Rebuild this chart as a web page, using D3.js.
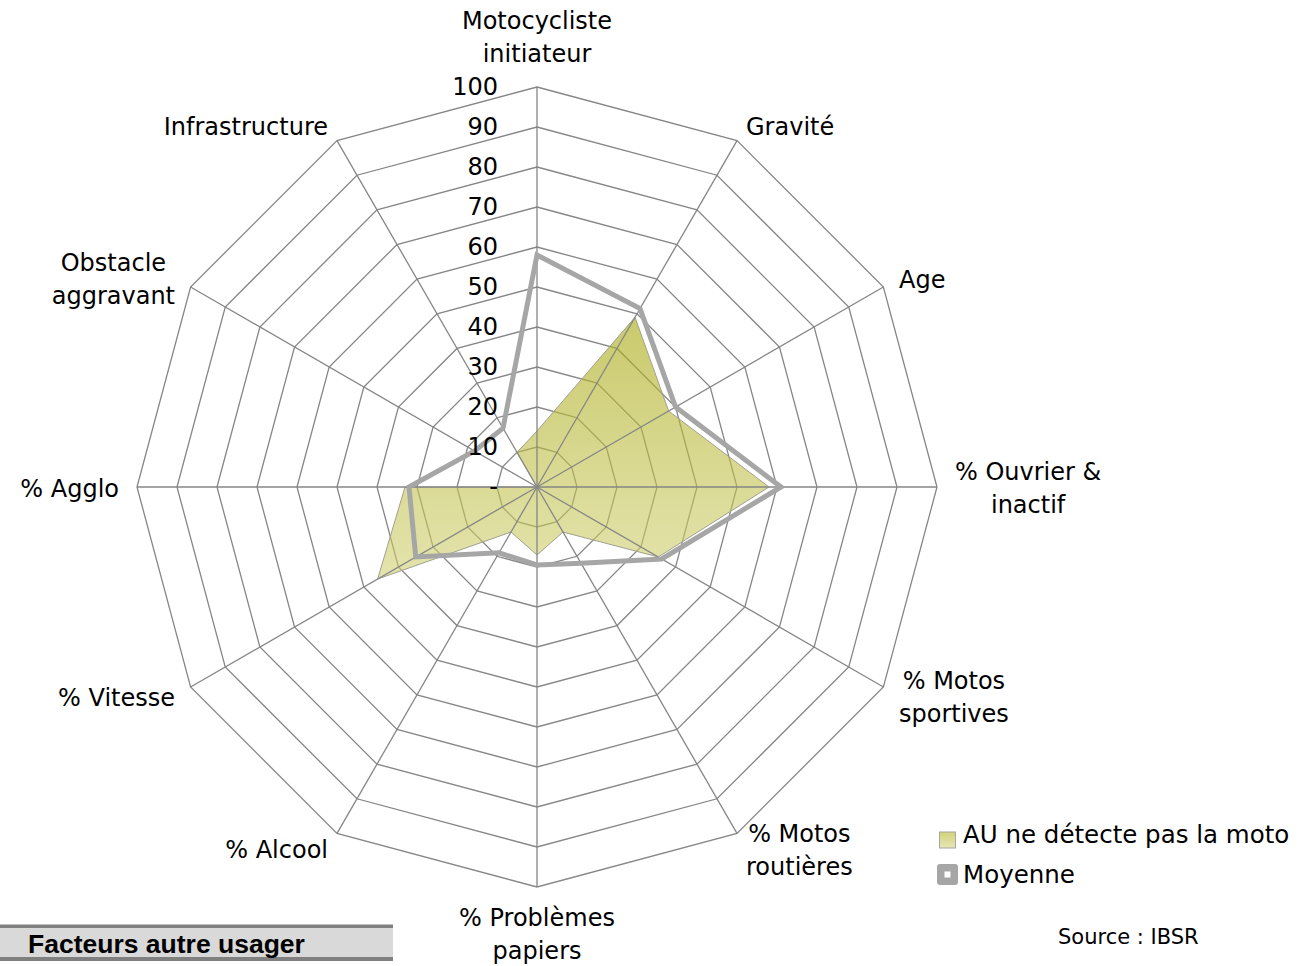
<!DOCTYPE html>
<html>
<head>
<meta charset="utf-8">
<script src="https://cdn.jsdelivr.net/npm/d3@7"></script>
<style>
  body { margin: 0; background: #fff; }
  svg text { font-family: "DejaVu Sans", Verdana, sans-serif; fill: #000; }
</style>
</head>
<body>
<div class="contenedor_grafico"></div>
<script>
// categories, clockwise from the top
const categories = [
  "Motocycliste\ninitiateur",
  "Gravité",
  "Age",
  "% Ouvrier &\ninactif",
  "% Motos\nsportives",
  "% Motos\nroutières",
  "% Problèmes\npapiers",
  "% Alcool",
  "% Vitesse",
  "% Agglo",
  "Obstacle\naggravant",
  "Infrastructure"
];
const auValues = [14, 49, 38, 58, 35, 13, 17, 13, 46, 33, 0, 10];
const moyenneValues = [58, 51.5, 40, 61, 36, 22, 19.5, 19, 35, 32, 18, 17];
const tickValues = [0, 10, 20, 30, 40, 50, 60, 70, 80, 90, 100];
const tickLabels = ["-", "10", "20", "30", "40", "50", "60", "70", "80", "90", "100"];
const seriesNames = ["AU ne détecte pas la moto", "Moyenne"];

document.addEventListener("DOMContentLoaded", function () {
  const width = 1309;
  const height = 966;
  const cx = 537;
  const cy = 487;
  const radius = 400;
  const gridColor = "#868686";
  const lineGrey = "#a6a6a6";

  const svg = d3
    .select(".contenedor_grafico")
    .append("svg")
    .attr("width", width)
    .attr("height", height);

  const defs = svg.append("defs");
  // gradient in the chart group's local coordinates (origin = centre)
  const grad = defs
    .append("linearGradient")
    .attr("id", "fillAU")
    .attr("gradientUnits", "userSpaceOnUse")
    .attr("x1", 0).attr("x2", 0)
    .attr("y1", -175).attr("y2", 95);
  grad.append("stop").attr("offset", 0).attr("stop-color", "#a8a810").attr("stop-opacity", 0.62);
  grad.append("stop").attr("offset", 1).attr("stop-color", "#d0d072").attr("stop-opacity", 0.58);

  const legGrad = defs
    .append("linearGradient")
    .attr("id", "fillLeg")
    .attr("x1", 0).attr("x2", 0).attr("y1", 0).attr("y2", 1);
  legGrad.append("stop").attr("offset", 0).attr("stop-color", "#d2d27a");
  legGrad.append("stop").attr("offset", 1).attr("stop-color", "#e6e6b6");

  const rScale = d3.scaleLinear().domain([0, 100]).range([0, radius]);
  const angle = d3
    .scaleLinear()
    .domain([0, categories.length])
    .range([0, 2 * Math.PI]);

  const g = svg.append("g").attr("transform", `translate(${cx}, ${cy})`);

  const pointAt = (i, v) => [
    rScale(v) * Math.sin(angle(i)),
    -rScale(v) * Math.cos(angle(i))
  ];

  const radial = d3
    .lineRadial()
    .angle((d, i) => angle(i))
    .radius((d) => rScale(d))
    .curve(d3.curveLinearClosed);

  // rings
  g.selectAll(".ring")
    .data(tickValues.filter((t) => t > 0))
    .enter()
    .append("path")
    .attr("class", "ring")
    .attr("d", (t) => radial(categories.map(() => t)))
    .attr("fill", "none")
    .attr("stroke", gridColor)
    .attr("stroke-width", 1.3);

  // AU series (filled)
  g.append("path")
    .attr("d", radial(auValues))
    .attr("fill", "url(#fillAU)")
    .attr("stroke", "#a0a090")
    .attr("stroke-width", 1);

  // spokes
  g.selectAll(".spoke")
    .data(categories)
    .enter()
    .append("line")
    .attr("class", "spoke")
    .attr("x1", 0)
    .attr("y1", 0)
    .attr("x2", (d, i) => pointAt(i, 100)[0])
    .attr("y2", (d, i) => pointAt(i, 100)[1])
    .attr("stroke", gridColor)
    .attr("stroke-width", 1.3);

  // Moyenne series
  g.append("path")
    .attr("d", radial(moyenneValues))
    .attr("fill", "none")
    .attr("stroke", lineGrey)
    .attr("stroke-width", 5)
    .attr("stroke-linejoin", "miter");

  // value labels along the top axis
  g.selectAll(".tick-label")
    .data(tickValues)
    .enter()
    .append("text")
    .attr("class", "tick-label")
    .attr("x", -39)
    .attr("y", (t) => -rScale(t))
    .attr("text-anchor", "end")
    .attr("dominant-baseline", "central")
    .style("font-size", "24px")
    .text((t, i) => tickLabels[i]);

  // category labels
  const lineH = 33;
  categories.forEach((name, i) => {
    const a = angle(i);
    const s = Math.sin(a);
    const c = Math.cos(a);
    const [ax, ay] = pointAt(i, 100 + 4.5);
    const lines = name.split("\n");
    const lab = g.append("text").style("font-size", "24px");
    const spans = lines.map((l) =>
      lab.append("tspan").attr("text-anchor", "middle").attr("dominant-baseline", "central").text(l)
    );
    const w = d3.max(spans, (sp) => sp.node().getComputedTextLength());
    let bx = ax; // box centre x
    if (s > 0.01) bx = ax + w / 2;
    else if (s < -0.01) bx = ax - w / 2;
    let by = ay + (Math.abs(c) < 0.99 ? 1.5 : 0); // box centre y
    const h = lines.length * lineH;
    if (c > 0.99) by = ay - h / 2 + 1;
    else if (c < -0.99) by = ay + h / 2 - 4;
    spans.forEach((sp, k) => {
      sp.attr("x", bx).attr("y", by + (k - (lines.length - 1) / 2) * lineH);
    });
  });

  // legend
  const legend = svg.append("g").attr("transform", "translate(938, 0)");
  legend
    .append("rect")
    .attr("x", 1.5)
    .attr("y", 832)
    .attr("width", 16)
    .attr("height", 16)
    .attr("fill", "url(#fillLeg)")
    .attr("stroke", "#a6a6a6")
    .attr("stroke-width", 1);
  legend
    .append("rect")
    .attr("x", -1)
    .attr("y", 864)
    .attr("width", 21)
    .attr("height", 21)
    .attr("rx", 3)
    .attr("fill", lineGrey);
  legend
    .append("rect")
    .attr("x", 6.5)
    .attr("y", 871.5)
    .attr("width", 6)
    .attr("height", 6)
    .attr("fill", "#fff");
  legend
    .selectAll(".leg-text")
    .data(seriesNames)
    .enter()
    .append("text")
    .attr("class", "leg-text")
    .attr("x", 25)
    .attr("y", (d, i) => 843 + i * 40)
    .style("font-size", "24.5px")
    .text((d) => d);

  svg
    .append("text")
    .attr("x", 1058)
    .attr("y", 944)
    .style("font-size", "21px")
    .text("Source : IBSR");

  // bottom-left banner
  const banner = svg.append("g");
  banner.append("rect").attr("x", 0).attr("y", 926).attr("width", 393).attr("height", 33).attr("fill", "#d9d9d9");
  banner.append("rect").attr("x", 0).attr("y", 924.5).attr("width", 393).attr("height", 3.5).attr("fill", "#808080");
  banner.append("rect").attr("x", 0).attr("y", 957).attr("width", 393).attr("height", 4).attr("fill", "#808080");
  banner
    .append("text")
    .attr("x", 28)
    .attr("y", 953)
    .style("font-family", "'Liberation Sans', Arial, sans-serif")
    .style("font-weight", "bold")
    .style("font-size", "26.5px")
    .text("Facteurs autre usager");
});
</script>
</body>
</html>
